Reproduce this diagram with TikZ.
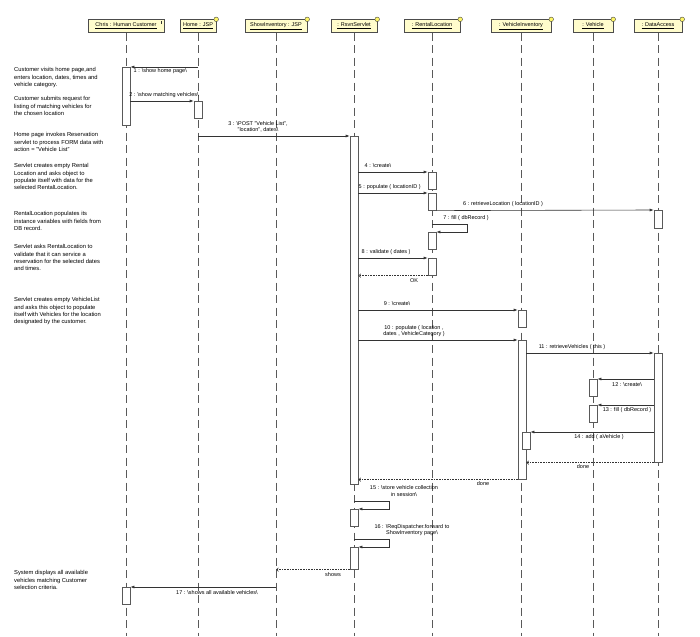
\documentclass[tikz,border=0pt]{standalone}
\usepackage{fontspec}
\setmainfont{Liberation Sans}
\usetikzlibrary{arrows.meta, positioning}
\newcommand{\bksl}{\textbackslash}
\tikzset{
head/.style={draw=gray!60!black, fill=yellow!20, minimum height=13pt, inner sep=1pt, font=\fontsize{5.5}{6}\selectfont},
life/.style={draw=gray!70!black, dash pattern=on 8pt off 4.5pt, line width=0.7pt},
bar/.style={draw=gray!70!black, fill=white, minimum width=8pt, inner sep=0pt, line width=0.6pt, anchor=north},
msg/.style={draw=black!80, line width=0.6pt, -{Latex[length=4pt,width=3pt]}},
ret/.style={draw=black!80, densely dotted, line width=0.6pt, -{Straight Barb[length=2pt,width=3.5pt]}},
lbl/.style={font=\fontsize{5.5}{6.5}\selectfont, inner sep=0.5pt, align=center},
note/.style={font=\fontsize{5.8}{7.3}\selectfont, align=left, anchor=north west, inner sep=0pt},
icon/.style={draw=gray!50!black, fill=yellow!60, line width=0.4pt}}
\begin{document}
\begin{tikzpicture}[x=1pt, y=-1pt]
\useasboundingbox (0,0) rectangle (700,636);
\coordinate (bottom) at (0,636);
% objects
\node [head, minimum width=76pt] (chris) at (126,26) {\underline{Chris : Human Customer}};
\node [head, minimum width=36pt] (home) at (198,26) {\underline{Home : JSP}};
\node [head, minimum width=62pt] (showinv) at (276,26) {\underline{ShowInventory : JSP}};
\node [head, minimum width=46pt] (servlet) at (354,26) {\underline{: RsvnServlet}};
\node [head, minimum width=56pt] (rentloc) at (432,26) {\underline{: RentalLocation}};
\node [head, minimum width=60pt] (vehinv) at (521,26) {\underline{: VehicleInventory}};
\node [head, minimum width=40pt] (vehicle) at (593,26) {\underline{: Vehicle}};
\node [head, minimum width=48pt] (dataacc) at (658,26) {\underline{: DataAccess}};
\draw [gray!40!black, line width=0.7pt] ([xshift=-3pt,yshift=-1.5pt]chris.north east) -- ++(0,3.5);
\draw [icon] (home.north east) circle (2.3pt);
\draw [icon] (showinv.north east) circle (2.3pt);
\draw [icon] (servlet.north east) circle (2.3pt);
\draw [icon] (rentloc.north east) circle (2.3pt);
\draw [icon] (vehinv.north east) circle (2.3pt);
\draw [icon] (vehicle.north east) circle (2.3pt);
\draw [icon] (dataacc.north east) circle (2.3pt);
% lifelines
\draw [life] (chris) -- (chris |- bottom);
\draw [life] (home) -- (home |- bottom);
\draw [life] (showinv) -- (showinv |- bottom);
\draw [life] (servlet) -- (servlet |- bottom);
\draw [life] (rentloc) -- (rentloc |- bottom);
\draw [life] (vehinv) -- (vehinv |- bottom);
\draw [life] (vehicle) -- (vehicle |- bottom);
\draw [life] (dataacc) -- (dataacc |- bottom);
% activations
\node [bar, minimum height=58pt] (cb1) at (126,67) {};
\node [bar, minimum height=17pt] (hb1) at (198,101) {};
\node [bar, minimum height=348pt] (sb1) at (354,136) {};
\node [bar, minimum height=17pt] (rb1) at (432,172) {};
\node [bar, minimum height=17pt] (rb2) at (432,193) {};
\node [bar, minimum height=18pt] (db1) at (658,210) {};
\node [bar, minimum height=17pt] (rb3) at (432,232) {};
\node [bar, minimum height=17pt] (rb4) at (432,258) {};
\node [bar, minimum height=17pt] (vb1) at (522,310) {};
\node [bar, minimum height=139pt] (vb2) at (522,340) {};
\node [bar, minimum height=109pt] (db2) at (658,353) {};
\node [bar, minimum height=17pt] (eb1) at (593,379) {};
\node [bar, minimum height=17pt] (eb2) at (593,405) {};
\node [bar, minimum height=17pt] (vb3) at (526,432) {};
\node [bar, minimum height=17pt] (sb2) at (354,509) {};
\node [bar, minimum height=22pt] (sb3) at (354,547) {};
\node [bar, minimum height=17pt] (cb2) at (126,587) {};
% messages
\draw [msg] (home |- cb1.north) -- (cb1.north east);
\draw [msg] (cb1.east |- hb1.north) -- (hb1.north west);
\draw [msg] (home |- sb1.north) -- (sb1.north west);
\draw [msg] (sb1.east |- rb1.north) -- (rb1.north west);
\draw [msg] (sb1.east |- rb2.north) -- (rb2.north west);
\draw [msg] (rb2.south east) -- (db1.north west);
\draw [msg] ([yshift=8pt]rb3.north) -- ++(35,0) |- (rb3.north east);
\draw [msg] (sb1.east |- rb4.north) -- (rb4.north west);
\draw [ret] (rb4.south west) -- (sb1.east |- rb4.south);
\draw [msg] (sb1.east |- vb1.north) -- (vb1.north west);
\draw [msg] (sb1.east |- vb2.north) -- (vb2.north west);
\draw [msg] (vb2.east |- db2.north) -- (db2.north west);
\draw [msg] (db2.west |- eb1.north) -- (eb1.north east);
\draw [msg] (db2.west |- eb2.north) -- (eb2.north east);
\draw [msg] (db2.west |- vb3.north) -- (vb3.north east);
\draw [ret] (db2.south west) -- (vb2.east |- db2.south);
\draw [ret] (vb2.south west) -- (sb1.east |- vb2.south);
\draw [msg] ([yshift=8pt]sb2.north) -- ++(35,0) |- (sb2.north east);
\draw [msg] ([yshift=8pt]sb3.north) -- ++(35,0) |- (sb3.north east);
\draw [ret] (sb3.south west) -- (showinv |- sb3.south);
\draw [msg] (showinv |- cb2.north) -- (cb2.north east);
% message labels
\node [lbl, anchor=west] (l1) at (133,71) {1 : \bksl show home page\bksl};
\node [lbl] (l2) at (164,95) {2 : \bksl show matching vehicles\bksl};
\node [lbl] (l3) at (258,127) {3 : \bksl POST "Vehicle List",\\"location", dates\bksl};
\node [lbl, anchor=west] (l4) at (364,166) {4 : \bksl create\bksl};
\node [lbl, anchor=west] (l5) at (358,187) {5 : populate ( locationID )};
\node [lbl] (l6) at (503,204) {6 : retrieveLocation ( locationID )};
\node [lbl] (l7) at (466,218) {7 : fill ( dbRecord )};
\node [lbl, anchor=west] (l8) at (361,252) {8 : validate ( dates )};
\node [lbl] (lok) at (414,281) {OK};
\node [lbl] (l9) at (397,304) {9 : \bksl create\bksl};
\node [lbl] (l10) at (414,331) {10 : populate ( location ,\\dates , VehicleCategory )};
\node [lbl] (l11) at (572,347) {11 : retrieveVehicles ( this )};
\node [lbl] (l12) at (627,385) {12 : \bksl create\bksl};
\node [lbl] (l13) at (627,410) {13 : fill ( dbRecord )};
\node [lbl] (l14) at (599,437) {14 : add ( aVehicle )};
\node [lbl] (ld1) at (583,467) {done};
\node [lbl] (ld2) at (483,484) {done};
\node [lbl] (l15) at (404,491) {15 : \bksl store vehicle collection\\in session\bksl};
\node [lbl] (l16) at (412,530) {16 : \bksl ReqDispatcher.forward to\\ShowInventory page\bksl};
\node [lbl] (lsh) at (333,575) {shows};
\node [lbl] (l17) at (217,593) {17 : \bksl shows all available vehicles\bksl};
% notes
\node [note] (n1) at (14,67.5) {Customer visits home page,and\\enters location, dates, times and\\vehicle category.};
\node [note] (n2) at (14,96.5) {Customer submits request for\\listing of matching vehicles for\\the chosen location};
\node [note] (n3) at (14,132.5) {Home page invokes Reservation\\servlet to process FORM data with\\action = "Vehicle List"};
\node [note] (n4) at (14,163.5) {Servlet creates empty Rental\\Location and asks object to\\populate itself with data for the\\selected RentalLocation.};
\node [note] (n5) at (14,211.5) {RentalLocation populates its\\instance variables with fields from\\DB record.};
\node [note] (n6) at (14,244.5) {Servlet asks RentalLocation to\\validate that it can service a\\reservation for the selected dates\\and times.};
\node [note] (n7) at (14,297.5) {Servlet creates empty VehicleList\\and asks this object to populate\\itself with Vehicles for the location\\designated by the customer.};
\node [note] (n8) at (14,570.5) {System displays all available\\vehicles matching Customer\\selection criteria.};
\end{tikzpicture}
\end{document}
